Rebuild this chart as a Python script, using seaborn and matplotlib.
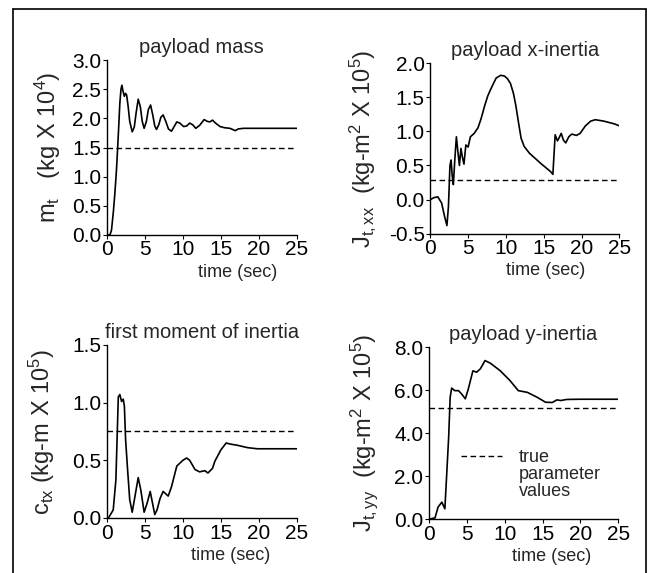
import numpy as np
import pandas as pd
import matplotlib
matplotlib.use("Agg")
import matplotlib.pyplot as plt
from matplotlib.lines import Line2D
import seaborn as sns

# ---------------- data ----------------
mass_t = [0, 0.4, 0.6, 0.85, 1.05, 1.25, 1.4, 1.55, 1.7, 1.85, 1.97, 2.15, 2.3, 2.45, 2.6,
          2.8, 3.0, 3.33, 3.6, 3.85, 4.12, 4.4, 4.65, 4.9, 5.2, 5.45, 5.75, 6.05, 6.3, 6.53,
          6.85, 7.1, 7.4, 7.75, 8.1, 8.5, 8.85, 9.2, 9.6, 10.1, 10.5, 10.9, 11.3, 11.7,
          12.2, 12.8, 13.2, 13.55, 13.9, 14.3, 14.9, 15.5, 16.2, 16.9, 17.3, 18.0, 19.3, 25]
mass_v = [0, 0, 0.08, 0.4, 0.72, 1.1, 1.46, 1.85, 2.26, 2.5, 2.57, 2.45, 2.38, 2.43, 2.4,
          2.2, 1.95, 1.77, 1.85, 2.1, 2.33, 2.2, 1.95, 1.83, 1.95, 2.15, 2.23, 2.05, 1.87,
          1.81, 1.9, 2.02, 2.06, 1.95, 1.82, 1.78, 1.86, 1.94, 1.92, 1.86, 1.87, 1.92, 1.89,
          1.83, 1.88, 1.98, 1.95, 1.94, 1.97, 1.92, 1.86, 1.84, 1.83, 1.79, 1.82, 1.83,
          1.83, 1.83]
mass_true = 1.5

jxx_t = [0, 0.5, 1.0, 1.5, 1.9, 2.2, 2.4, 2.6, 2.75, 2.9, 3.05, 3.25, 3.45, 3.65, 3.85,
         4.05, 4.25, 4.45, 4.7, 5.0, 5.3, 5.8, 6.3, 6.7, 7.2, 7.6, 8.0, 8.7, 9.3, 9.8,
         10.2, 10.6, 11.0, 11.3, 11.7, 12.0, 12.4, 13.1, 14.6, 15.9, 16.2, 16.5, 16.8,
         17.0, 17.3, 17.6, 17.9, 18.3, 18.7, 19.3, 19.8, 20.5, 21.2, 21.8, 22.9, 24.3, 25]
jxx_v = [0.0, 0.03, 0.04, -0.05, -0.25, -0.38, -0.1, 0.5, 0.58, 0.35, 0.22, 0.6, 0.92,
         0.7, 0.5, 0.75, 0.62, 0.52, 0.8, 0.77, 0.92, 0.97, 1.05, 1.18, 1.38, 1.52, 1.62,
         1.78, 1.82, 1.81, 1.77, 1.70, 1.55, 1.38, 1.1, 0.9, 0.78, 0.68, 0.53, 0.41, 0.37,
         0.95, 0.86, 0.9, 0.97, 0.87, 0.83, 0.92, 0.96, 0.94, 0.97, 1.08, 1.15, 1.17, 1.15,
         1.11, 1.08]
jxx_true = 0.29

ctx_t = [0, 0.2, 0.83, 1.18, 1.5, 1.7, 1.93, 2.15, 2.3, 2.46, 2.72, 3.0, 3.33, 3.7, 4.12,
         4.47, 4.9, 5.3, 5.7, 6.0, 6.3, 6.6, 7.0, 7.4, 8.07, 8.5, 9.2, 10.0, 10.5, 10.9,
         11.6, 12.2, 12.9, 13.3, 13.9, 14.2, 15.0, 15.7, 16.3, 17.2, 18.5, 19.8, 25]
ctx_v = [0, 0, 0.07, 0.33, 1.05, 1.07, 1.01, 1.03, 0.97, 0.68, 0.42, 0.16, 0.05, 0.19,
         0.35, 0.24, 0.05, 0.13, 0.23, 0.13, 0.03, 0.07, 0.17, 0.23, 0.19, 0.27, 0.45, 0.5,
         0.52, 0.5, 0.42, 0.40, 0.41, 0.39, 0.43, 0.49, 0.59, 0.65, 0.64, 0.63, 0.61, 0.6,
         0.6]
ctx_true = 0.75

jyy_t = [0, 0.8, 1.2, 1.7, 2.1, 2.3, 2.6, 2.8, 3.0, 3.4, 3.9, 4.3, 4.8, 5.2, 5.8, 6.3,
         6.8, 7.4, 8.1, 9.4, 10.7, 11.8, 13.0, 14.3, 15.4, 16.3, 16.9, 17.4, 18.2, 20, 25]
jyy_v = [0, 0.06, 0.56, 0.79, 0.48, 1.8, 3.81, 5.67, 6.1, 5.98, 5.98, 5.83, 5.6, 6.06,
         6.9, 6.84, 7.0, 7.38, 7.26, 6.91, 6.45, 5.98, 5.9, 5.67, 5.44, 5.43, 5.55, 5.52,
         5.57, 5.58, 5.58]
jyy_true = 5.16

titles = ["payload mass", "payload x-inertia", "first moment of inertia", "payload y-inertia"]
ylabels = ["m$_t$   (kg X 10$^4$)", "J$_{t,xx}$  (kg-m$^2$ X 10$^5$)",
           "c$_{tx}$ (kg-m X 10$^5$)", "J$_{t,yy}$  (kg-m$^2$ X 10$^5$)"]
xlabel = "time (sec)"
xticks = [0, 5, 10, 15, 20, 25]
yticks_list = [[0.0, 0.5, 1.0, 1.5, 2.0, 2.5, 3.0],
               [-0.5, 0.0, 0.5, 1.0, 1.5, 2.0],
               [0.0, 0.5, 1.0, 1.5],
               [0.0, 2.0, 4.0, 6.0, 8.0]]
legend_labels = ["true", "parameter", "values"]

# ---------------- style ----------------
sns.set_style("ticks")
plt.rcParams["font.family"] = ["Liberation Sans", "DejaVu Sans"]
plt.rcParams["mathtext.fontset"] = "custom"
plt.rcParams["mathtext.rm"] = "Liberation Sans"
plt.rcParams["mathtext.it"] = "Liberation Sans"
plt.rcParams["mathtext.default"] = "regular"

fig = plt.figure(figsize=(6.48, 5.73), dpi=100)

positions = [
    [0.165, 0.590, 0.293, 0.305],
    [0.664, 0.592, 0.292, 0.298],
    [0.165, 0.096, 0.293, 0.302],
    [0.662, 0.094, 0.292, 0.300],
]
xlabel_x = [0.69, 0.61, 0.65, 0.65]
ylabel_x = [-0.23, -0.275, -0.263, -0.26]

series = [(mass_t, mass_v, mass_true), (jxx_t, jxx_v, jxx_true),
          (ctx_t, ctx_v, ctx_true), (jyy_t, jyy_v, jyy_true)]

for i, (pos, (t, v, tv)) in enumerate(zip(positions, series)):
    ax = fig.add_axes(pos)
    df = pd.DataFrame({"time": t, "value": v})
    sns.lineplot(data=df, x="time", y="value", ax=ax, color="black", lw=1.2)
    ax.axhline(tv, color="black", lw=1.0, ls=(0, (4, 2.5)))
    yt = yticks_list[i]
    ax.set_xlim(0, 25)
    ax.set_ylim(yt[0], yt[-1])
    ax.set_xticks(xticks)
    ax.set_xticklabels([str(x) for x in xticks])
    ax.set_yticks(yt)
    ax.set_yticklabels([f"{y:.1f}" for y in yt])
    ax.tick_params(axis="both", labelsize=15, length=3, width=0.8, pad=1, colors="black")
    for s in ["top", "right"]:
        ax.spines[s].set_visible(False)
    for s in ["left", "bottom"]:
        ax.spines[s].set_linewidth(1.0)
        ax.spines[s].set_color("black")
    ax.set_title(titles[i], fontsize=14.5, pad=5)
    ax.set_xlabel(xlabel, fontsize=13)
    ax.set_ylabel(ylabels[i], fontsize=17)
    ax.xaxis.set_label_coords(xlabel_x[i], -0.165)
    ax.yaxis.set_label_coords(ylabel_x[i], 0.5)
    if i == 3:
        handles = [Line2D([], [], color="black", lw=1.0, ls=(0, (4, 2.5))),
                   Line2D([], [], color="none"), Line2D([], [], color="none")]
        ax.legend(handles, legend_labels, loc="upper left", bbox_to_anchor=(0.13, 0.45),
                  frameon=False, fontsize=13, labelspacing=0.0, handlelength=2.3,
                  handletextpad=0.9, borderaxespad=0, handleheight=0.5)

# outer frame (left, top, right edges)
fig.add_artist(Line2D([13 / 648, 13 / 648], [0, 1 - 9 / 573], transform=fig.transFigure,
                      color="black", lw=1.2))
fig.add_artist(Line2D([13 / 648, 646 / 648], [1 - 9 / 573, 1 - 9 / 573],
                      transform=fig.transFigure, color="black", lw=1.2))
fig.add_artist(Line2D([646 / 648, 646 / 648], [0, 1 - 9 / 573], transform=fig.transFigure,
                      color="black", lw=1.2))

fig.savefig("out.png", dpi=100)
